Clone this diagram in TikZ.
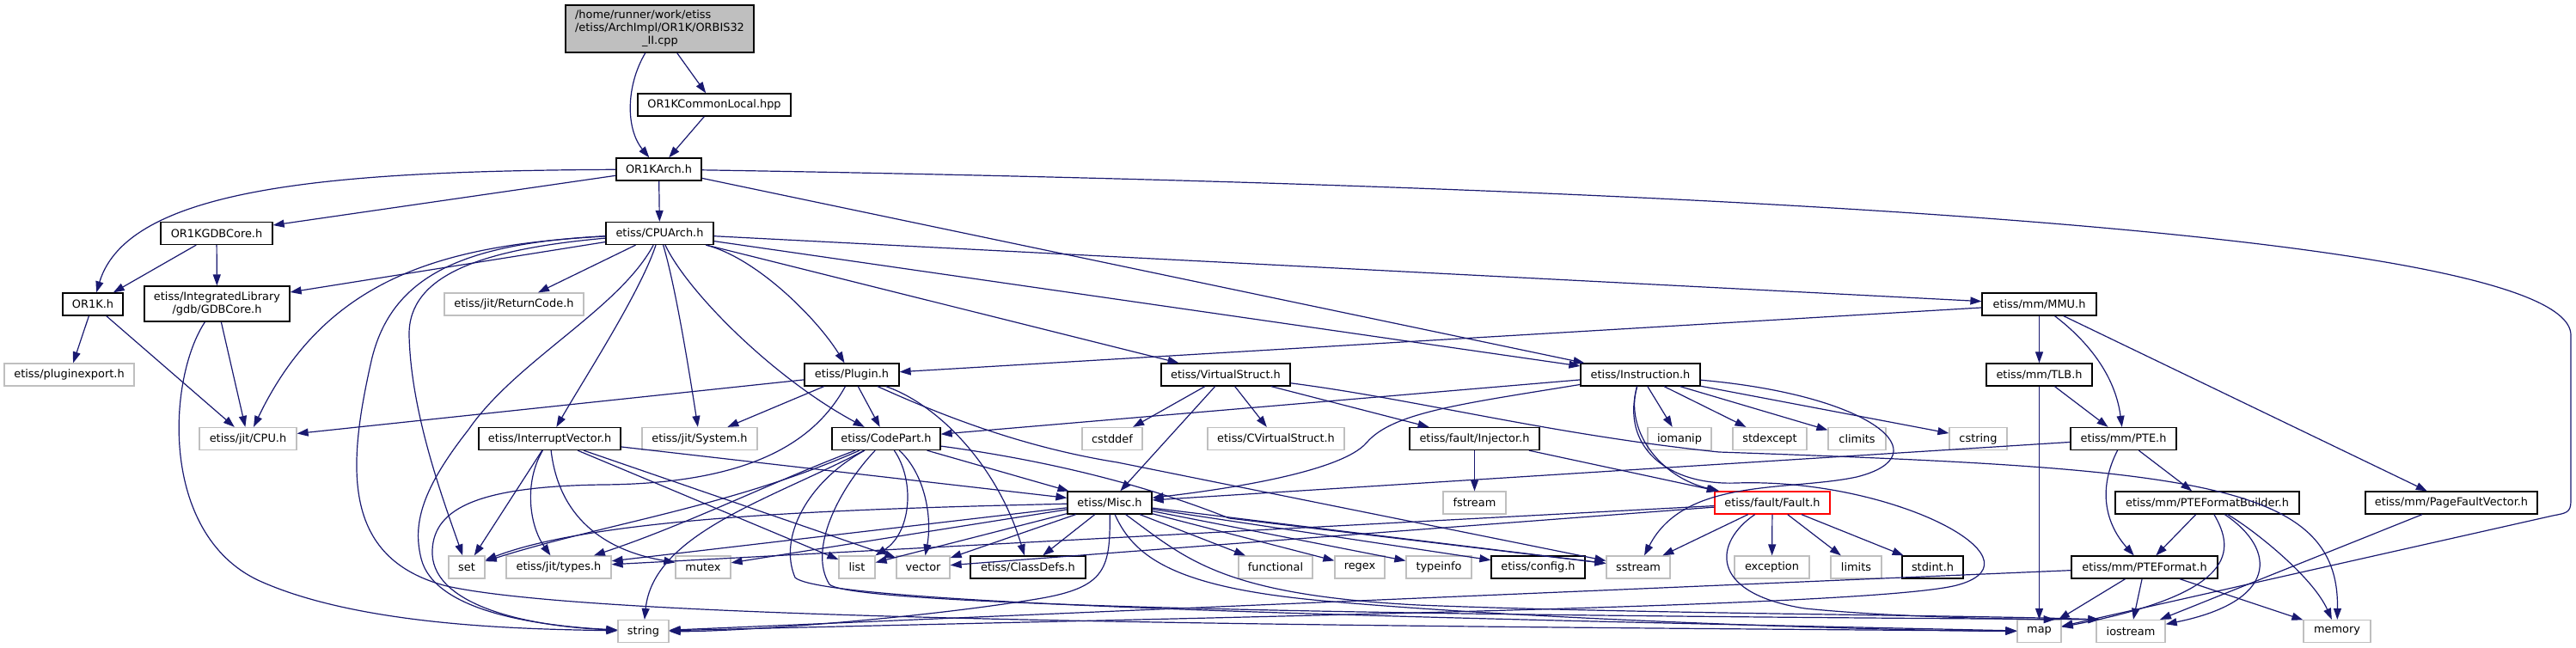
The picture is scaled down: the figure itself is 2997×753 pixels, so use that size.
\documentclass[tikz,border=0pt]{standalone}
\usepackage{fontspec}
\setmainfont{DejaVu Sans}
\usetikzlibrary{arrows.meta}
\definecolor{edgec}{HTML}{191970}
\definecolor{grayb}{HTML}{BFBFBF}
\tikzset{
  nbox/.style={rectangle, draw=black, fill=white, line width=1.25pt, minimum height=26pt, inner sep=0pt, text=black, font=\fontsize{12.9}{15}\selectfont},
  sbox/.style={nbox, draw=grayb},
  dep/.style={draw=edgec, line width=1.2pt, -{Triangle[length=13pt,width=9pt]}},
}
\begin{document}
\begin{tikzpicture}[x=1pt,y=-1pt]
\useasboundingbox (0,0) rectangle (2997,753);
% row 0-2
\node[nbox, fill=grayb, align=left, minimum width=219pt, minimum height=55pt] (cpp) at (767.5,33.5) {/home/runner/work/etiss\\/etiss/ArchImpl/OR1K/ORBIS32\\\hspace*{78pt}\_II.cpp};
\node[nbox, minimum width=178pt] (common) at (831,122) {OR1KCommonLocal.hpp};
\node[nbox, minimum width=99pt] (arch) at (766.5,197) {OR1KArch.h};
% row 3
\node[nbox, minimum width=130pt] (gdbcore1) at (252,271.5) {OR1KGDBCore.h};
\node[nbox, minimum width=125pt] (cpuarch) at (767.5,271.5) {etiss/CPUArch.h};
% row 4
\node[nbox, minimum width=70pt] (or1k) at (108,354) {OR1K.h};
\node[nbox, minimum width=169pt, minimum height=41pt, align=center] (gdb) at (252.5,353.5) {etiss/IntegratedLibrary\\/gdb/GDBCore.h};
\node[sbox, minimum width=162pt] (retcode) at (598,354) {etiss/jit/ReturnCode.h};
\node[nbox, minimum width=133pt] (mmu) at (2372.5,354) {etiss/mm/MMU.h};
% row 5
\node[sbox, minimum width=151pt] (pluginexport) at (80.5,436) {etiss/pluginexport.h};
\node[nbox, minimum width=110pt] (plugin) at (991,436) {etiss/Plugin.h};
\node[nbox, minimum width=150pt] (vstruct) at (1426,436) {etiss/VirtualStruct.h};
\node[nbox, minimum width=139pt] (instr) at (1908.5,436) {etiss/Instruction.h};
\node[nbox, minimum width=123pt] (tlb) at (2372.5,436) {etiss/mm/TLB.h};
% row 6
\node[sbox, minimum width=113pt] (cpu) at (288.5,510.5) {etiss/jit/CPU.h};
\node[nbox, minimum width=165pt] (iv) at (639.5,510.5) {etiss/InterruptVector.h};
\node[sbox, minimum width=134pt] (system) at (814,510.5) {etiss/jit/System.h};
\node[nbox, minimum width=126pt] (codepart) at (1031,510.5) {etiss/CodePart.h};
\node[sbox, minimum width=70pt] (cstddef) at (1294,510.5) {cstddef};
\node[sbox, minimum width=159pt] (cvs) at (1484.5,510.5) {etiss/CVirtualStruct.h};
\node[nbox, minimum width=151pt] (injector) at (1715.5,510.5) {etiss/fault/Injector.h};
\node[sbox, minimum width=74pt] (iomanip) at (1954,510.5) {iomanip};
\node[sbox, minimum width=86pt] (stdexcept) at (2059,510.5) {stdexcept};
\node[sbox, minimum width=67pt] (climits) at (2160.5,510.5) {climits};
\node[sbox, minimum width=67pt] (cstring) at (2301.5,510.5) {cstring};
\node[nbox, minimum width=123pt] (pte) at (2470.5,510.5) {etiss/mm/PTE.h};
% row 7
\node[nbox, minimum width=98pt] (misc) at (1291,585) {etiss/Misc.h};
\node[sbox, minimum width=73pt] (fstream) at (1715.5,585) {fstream};
\node[nbox, draw=red, minimum width=134pt] (fault) at (2062,585) {etiss/fault/Fault.h};
\node[nbox, minimum width=214pt] (ptefb) at (2568,585) {etiss/mm/PTEFormatBuilder.h};
\node[nbox, minimum width=200pt] (pfv) at (2852,585) {etiss/mm/PageFaultVector.h};
% row 8
\node[sbox, minimum width=42pt] (set) at (543,660) {set};
\node[sbox, minimum width=122pt] (types) at (650,660) {etiss/jit/types.h};
\node[sbox, minimum width=64pt] (mutex) at (818,660) {mutex};
\node[sbox, minimum width=42pt] (list) at (997,660) {list};
\node[sbox, minimum width=62pt] (vector) at (1074,660) {vector};
\node[nbox, minimum width=134pt] (classdefs) at (1196,660) {etiss/ClassDefs.h};
\node[sbox, minimum width=86pt] (functional) at (1484,660) {functional};
\node[sbox, minimum width=58pt] (regex) at (1582,660) {regex};
\node[sbox, minimum width=76pt] (typeinfo) at (1674,660) {typeinfo};
\node[nbox, minimum width=109pt] (config) at (1789.5,660) {etiss/config.h};
\node[sbox, minimum width=74pt] (sstream) at (1906,660) {sstream};
\node[sbox, minimum width=87pt] (exception) at (2061.5,660) {exception};
\node[sbox, minimum width=59pt] (limits) at (2159.5,660) {limits};
\node[nbox, minimum width=71pt] (stdint) at (2248.5,660) {stdint.h};
\node[nbox, minimum width=170pt] (ptef) at (2495,660) {etiss/mm/PTEFormat.h};
% row 9
\node[sbox, minimum width=59pt] (string) at (748.5,734.5) {string};
\node[sbox, minimum width=51pt] (map) at (2372.5,734.5) {map};
\node[sbox, minimum width=80pt] (iostream) at (2479,734.5) {iostream};
\node[sbox, minimum width=78pt] (memory) at (2719,734.5) {memory};

% edges
\draw[dep] (cpp) .. controls (728,100) and (728,150) .. (arch);
\draw[dep] (cpp) -- (common);
\draw[dep] (common) -- (arch);
\draw[dep] (arch) .. controls (400,199) and (150,215) .. (or1k);
\draw[dep] (arch) -- (gdbcore1);
\draw[dep] (arch) -- (cpuarch);
\draw[dep] (arch) -- (instr);
\draw[dep] (arch) .. controls (1700,212) and (2991,255) .. (2991,390) -- (2991,583) .. controls (2991,597) and (2985,597) .. (2970,600) -- (map);
\draw[dep] (gdbcore1) -- (or1k);
\draw[dep] (gdbcore1) -- (gdb);
\draw[dep] (or1k) -- (pluginexport);
\draw[dep] (or1k) -- (cpu);
\draw[dep] (gdb) -- (cpu);
\draw[dep] (gdb) .. controls (195,440) and (185,620) .. (300,675) .. controls (420,730) and (620,732) .. (string);
% CPUArch
\draw[dep] (cpuarch) -- (gdb);
\draw[dep] (cpuarch) -- (retcode);
\draw[dep] (cpuarch) .. controls (520,285) and (380,320) .. (cpu);
\draw[dep] (cpuarch) -- (mmu);
\draw[dep] (cpuarch) -- (instr);
\draw[dep] (cpuarch) -- (vstruct);
\draw[dep] (cpuarch) .. controls (880,300) and (950,370) .. (plugin);
\draw[dep] (cpuarch) .. controls (800,340) and (900,440) .. (codepart);
\draw[dep] (cpuarch) .. controls (785,330) and (800,420) .. (system);
\draw[dep] (cpuarch) .. controls (745,340) and (680,440) .. (iv);
\draw[dep] (cpuarch) .. controls (560,290) and (475,320) .. (476,390) .. controls (478,480) and (515,580) .. (set);
\draw[dep] (cpuarch) .. controls (720,360) and (600,420) .. (545,500) .. controls (490,570) and (480,610) .. (490,650) .. controls (505,710) and (620,728) .. (string);
\draw[dep] (cpuarch) .. controls (540,283) and (455,320) .. (432,420) .. controls (405,540) and (395,650) .. (520,682) .. controls (700,722) and (1500,728) .. (map);
% MMU
\draw[dep] (mmu) -- (plugin);
\draw[dep] (mmu) -- (tlb);
\draw[dep] (mmu) .. controls (2420,390) and (2460,430) .. (pte);
\draw[dep] (mmu) -- (pfv);
% Plugin
\draw[dep] (plugin) -- (cpu);
\draw[dep] (plugin) -- (system);
\draw[dep] (plugin) -- (codepart);
\draw[dep] (plugin) .. controls (950,510) and (880,563) .. (700,564) .. controls (560,566) and (505,590) .. (503,640) .. controls (500,700) and (600,728) .. (string);
\draw[dep] (plugin) .. controls (1090,470) and (1160,540) .. (classdefs);
\draw[dep] ([xshift=30pt]plugin.south) .. controls (1110,490) and (1200,522) .. (1300,538) -- (sstream);
% VirtualStruct
\draw[dep] (vstruct) -- (cstddef);
\draw[dep] (vstruct) -- (misc);
\draw[dep] (vstruct) -- (cvs);
\draw[dep] (vstruct) -- (injector);
\draw[dep] (vstruct) .. controls (1650,465) and (1800,505) .. (2000,526) .. controls (2550,545) and (2722,560) .. (memory);
% Instruction
\draw[dep] (instr) -- (codepart);
\draw[dep] (instr) .. controls (1700,470) and (1620,480) .. (1590,515) .. controls (1560,550) and (1420,570) .. (misc);
\draw[dep] (instr) .. controls (1890,500) and (1930,555) .. ([xshift=6pt]fault.north west);
\draw[dep] (instr) -- (iomanip);
\draw[dep] (instr) -- (stdexcept);
\draw[dep] (instr) -- (climits);
\draw[dep] (instr) -- (cstring);
\draw[dep] (instr) .. controls (2180,460) and (2260,530) .. (2160,555) .. controls (2080,572) and (1960,555) .. (sstream);
\draw[dep] (instr) .. controls (1885,520) and (1940,565) .. (2020,562) .. controls (2200,556) and (2380,650) .. (2280,680) .. controls (2200,705) and (1500,716) .. (string);
% Injector
\draw[dep] (injector) -- (fstream);
\draw[dep] (injector) -- (fault);
% InterruptVector
\draw[dep] (iv) -- (set);
\draw[dep] (iv) .. controls (610,560) and (615,610) .. (types);
\draw[dep] (iv) .. controls (650,600) and (700,640) .. (mutex);
\draw[dep] (iv) -- (list);
\draw[dep] (iv) -- (vector);
\draw[dep] (iv) -- (misc);
% CodePart
\draw[dep] (codepart) -- (misc);
\draw[dep] (codepart) .. controls (850,590) and (700,610) .. (set);
\draw[dep] (codepart) .. controls (900,560) and (800,610) .. (types);
\draw[dep] (codepart) .. controls (900,580) and (760,620) .. (string);
\draw[dep] (codepart) .. controls (1065,560) and (1060,620) .. (list);
\draw[dep] (codepart) .. controls (1075,550) and (1085,600) .. (vector);
\draw[dep] (codepart) .. controls (1250,540) and (1360,575) .. (1430,603) -- (sstream);
\draw[dep] (codepart) .. controls (940,560) and (905,625) .. (925,672) .. controls (960,705) and (1700,720) .. (map);
\draw[dep] (codepart) .. controls (975,570) and (940,640) .. (965,680) .. controls (1000,712) and (2000,718) .. ([xshift=4pt]iostream.north west);
% Misc
\draw[dep] (misc) .. controls (1000,592) and (700,600) .. (set);
\draw[dep] (misc) -- (types);
\draw[dep] (misc) -- (mutex);
\draw[dep] (misc) -- (list);
\draw[dep] (misc) -- (vector);
\draw[dep] (misc) -- (classdefs);
\draw[dep] (misc) .. controls (1292,665) and (1285,685) .. (1200,698) .. controls (1050,722) and (850,735) .. (string);
\draw[dep] (misc) .. controls (1320,650) and (1370,685) .. (1550,700) .. controls (1800,722) and (2200,734) .. (map);
\draw[dep] (misc) .. controls (1380,650) and (1420,692) .. (1650,704) .. controls (1900,714) and (2300,716) .. ([xshift=4pt]iostream.north west);
\draw[dep] (misc) -- (functional);
\draw[dep] (misc) -- (regex);
\draw[dep] (misc) -- (typeinfo);
\draw[dep] (misc) -- (config);
\draw[dep] (misc) -- (sstream);
% Fault
\draw[dep] (fault) -- (sstream);
\draw[dep] (fault) -- (exception);
\draw[dep] (fault) -- (limits);
\draw[dep] (fault) -- (stdint);
\draw[dep] (fault) .. controls (1995,630) and (1985,690) .. (2100,708) .. controls (2200,718) and (2330,720) .. ([xshift=-8pt]map.north east);
\draw[dep] (fault) -- (types);
\draw[dep] (fault) -- (vector);
% mm
\draw[dep] (pte) -- (misc);
\draw[dep] (pte) -- (ptefb);
\draw[dep] (pte) .. controls (2440,570) and (2450,610) .. (ptef);
\draw[dep] (tlb) -- (map);
\draw[dep] (tlb) -- (pte);
\draw[dep] (ptefb) -- (ptef);
\draw[dep] (ptefb) .. controls (2600,640) and (2605,690) .. (map);
\draw[dep] (ptefb) .. controls (2650,640) and (2650,700) .. (iostream);
\draw[dep] (ptefb) .. controls (2620,615) and (2690,670) .. (memory);
\draw[dep] (ptef) -- (string);
\draw[dep] (ptef) -- (map);
\draw[dep] (ptef) -- (iostream);
\draw[dep] (ptef) -- (memory);
\draw[dep] (pfv) -- (iostream);
\end{tikzpicture}
\end{document}
